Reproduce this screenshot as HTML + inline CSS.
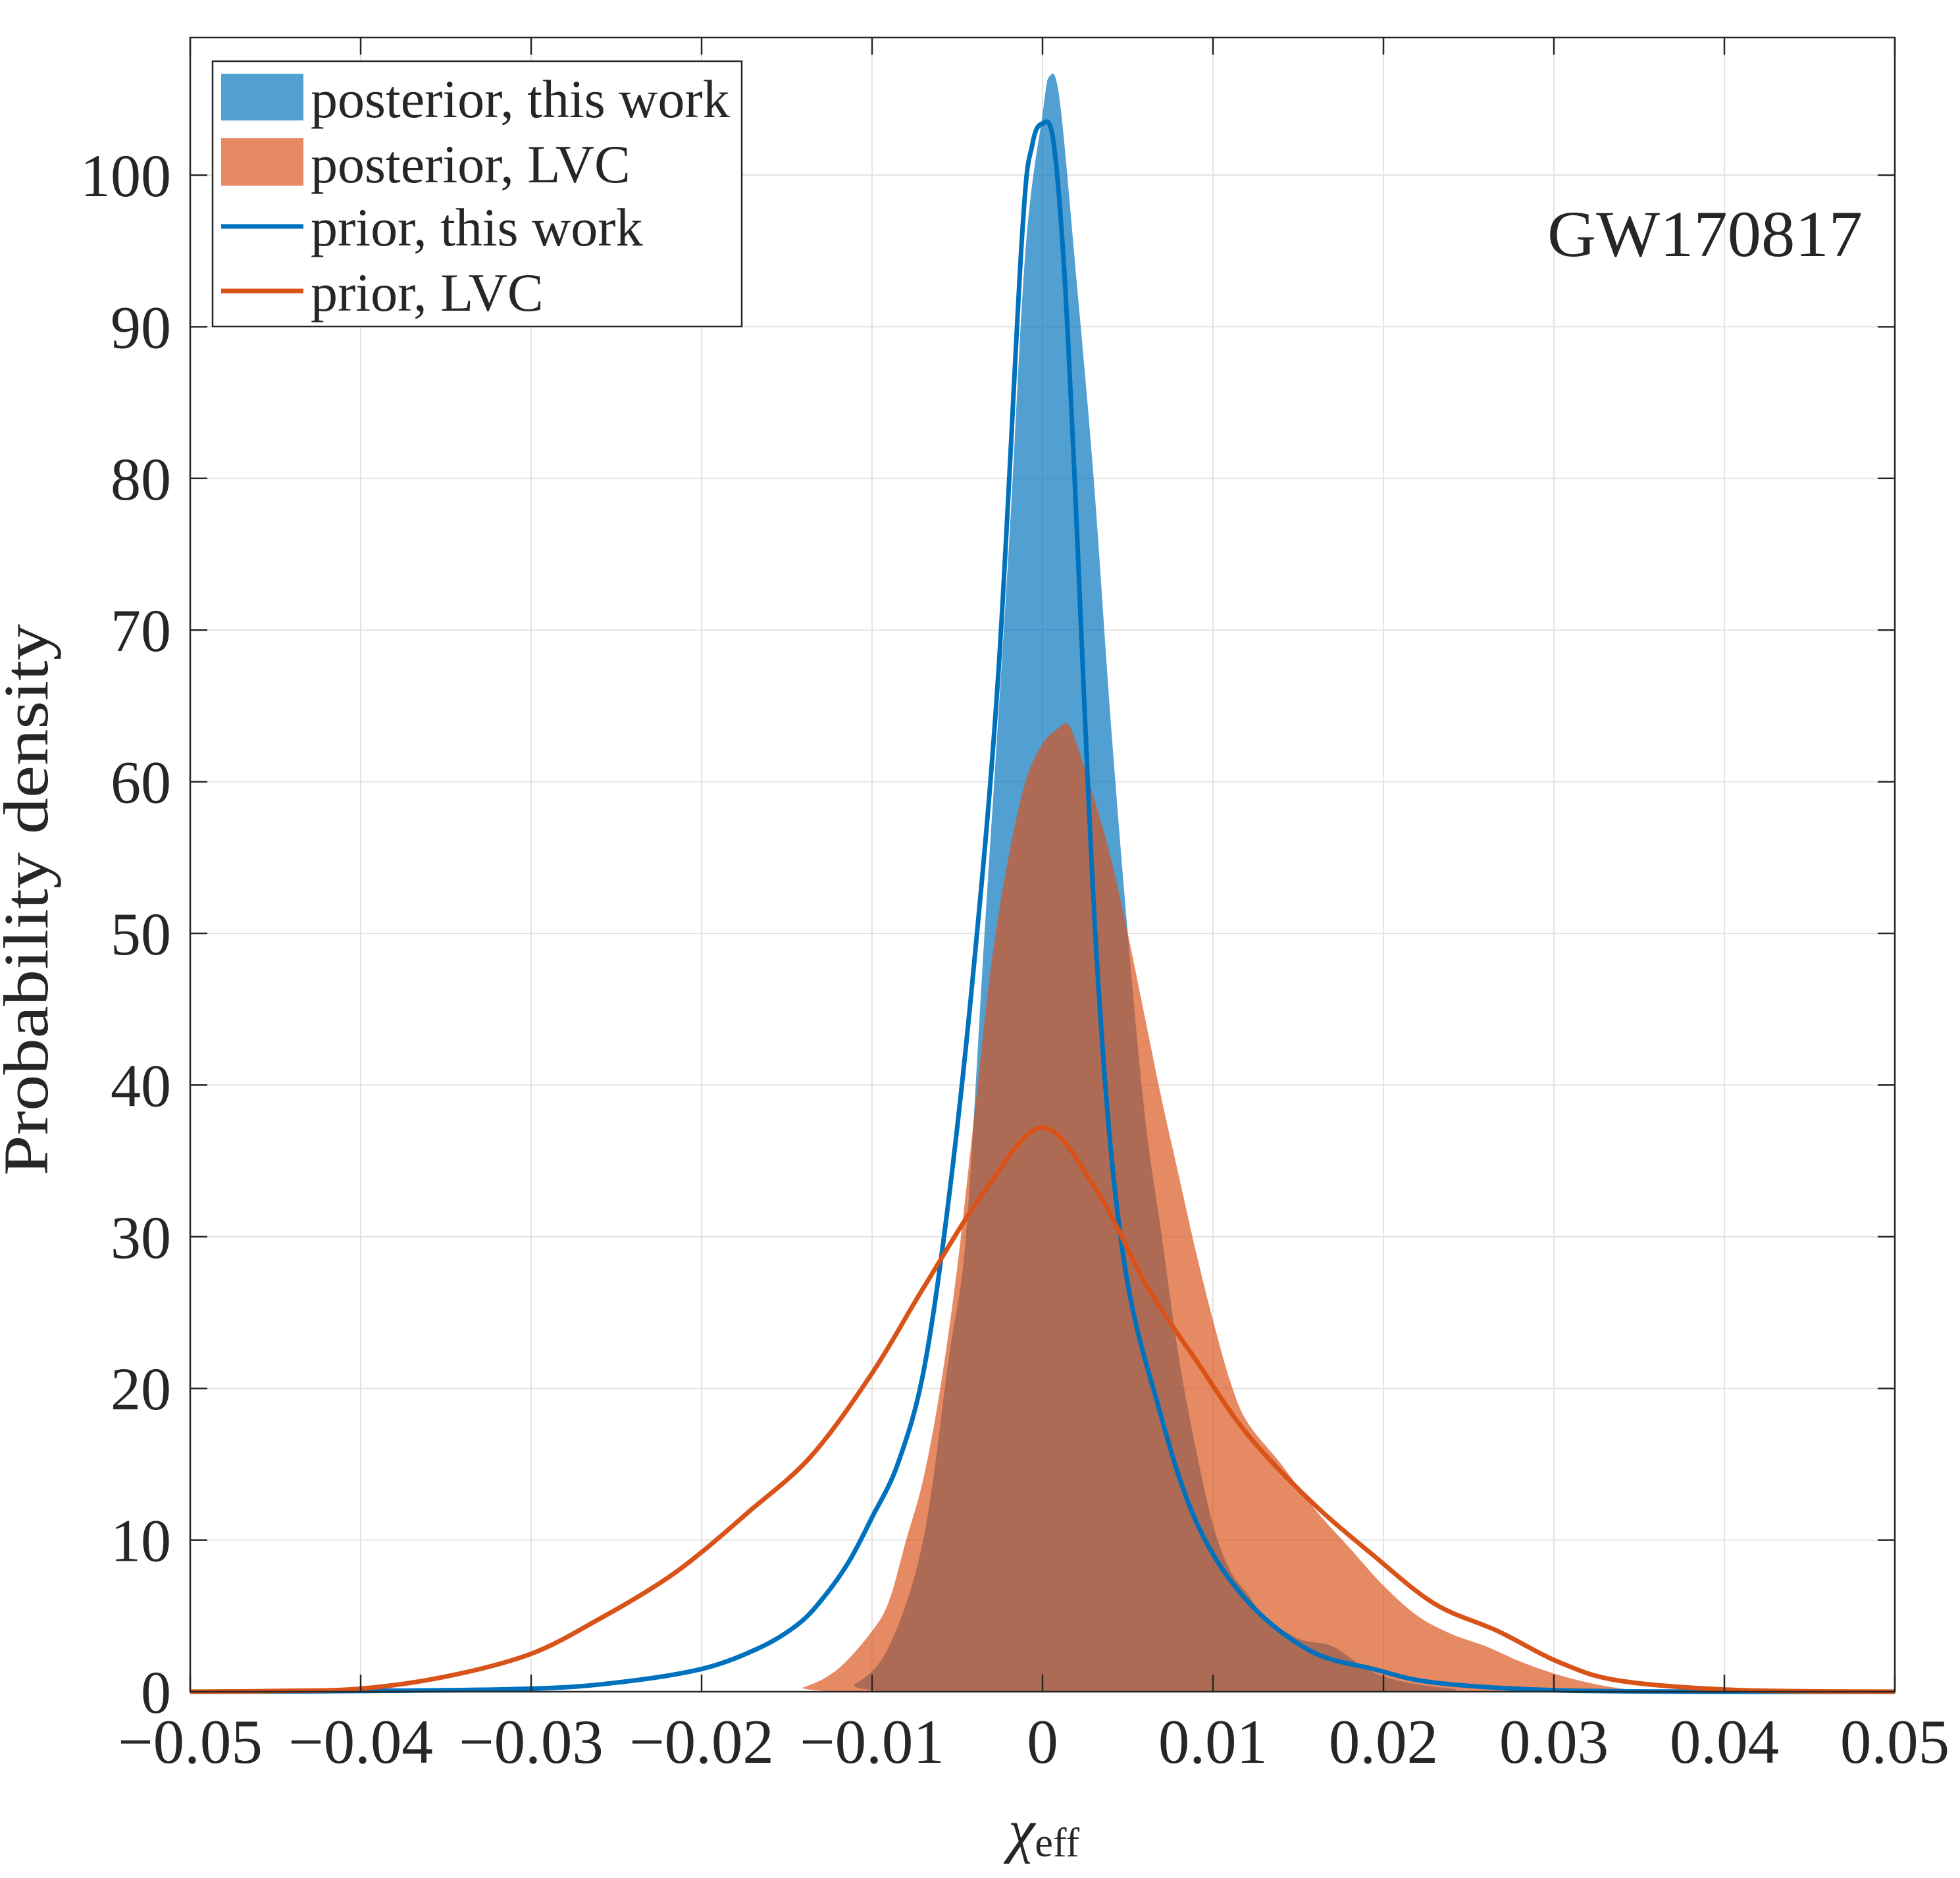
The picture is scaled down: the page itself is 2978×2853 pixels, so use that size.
<!DOCTYPE html>
<html><head><meta charset="utf-8"><style>
html,body{margin:0;padding:0;background:#fff;}
svg{display:block;}
text{font-family:"Liberation Serif",serif;fill:#262626;}
</style></head><body>
<svg id="chart" width="2978" height="2853" viewBox="0 0 2978 2853" xmlns="http://www.w3.org/2000/svg">
<g id="grid"></g>
<g id="series"></g>
<g id="axes"></g>
<text x="72" y="1367" font-size="96" text-anchor="middle" transform="rotate(-90 72 1367)" textLength="838" lengthAdjust="spacingAndGlyphs">Probability density</text>
<text x="1586" y="2812" font-size="92" text-anchor="middle" font-style="italic">χ<tspan font-size="62" font-style="normal" dy="8">eff</tspan></text>
<text x="2830" y="389" font-size="100" text-anchor="end" textLength="479" lengthAdjust="spacingAndGlyphs" fill="#000">GW170817</text>
<g>
<rect x="323" y="93" width="804" height="403" fill="#fff" stroke="#262626" stroke-width="2.5"/>
<rect x="336" y="112" width="125" height="71" fill="#0072bd" fill-opacity="0.68"/>
<text x="472" y="178" font-size="82" fill="#000">posterior, this work</text>
<rect x="336" y="210" width="125" height="72" fill="#d95319" fill-opacity="0.68"/>
<text x="472" y="277" font-size="82" fill="#000">posterior, LVC</text>
<line x1="336" y1="344" x2="461" y2="344" stroke="#0072bd" stroke-width="7"/>
<text x="472" y="373" font-size="82" fill="#000">prior, this work</text>
<line x1="336" y1="442" x2="461" y2="442" stroke="#d95319" stroke-width="7"/>
<text x="472" y="472" font-size="82" fill="#000">prior, LVC</text>
</g>
</svg>
<script>
const xTicks=[-0.05,-0.04,-0.03,-0.02,-0.01,0,0.01,0.02,0.03,0.04,0.05];
const xTickLabels=["\u22120.05","\u22120.04","\u22120.03","\u22120.02","\u22120.01","0","0.01","0.02","0.03","0.04","0.05"];
const yTicks=[0,10,20,30,40,50,60,70,80,90,100];
const yTickLabels=["0","10","20","30","40","50","60","70","80","90","100"];
const postThisX=[-0.05,-0.013,-0.011,-0.009,-0.007,-0.0055,-0.0045,-0.0034,-0.002,-0.001,0,0.0004,0.001,0.002,0.003,0.004,0.005,0.006,0.007,0.008,0.009,0.010,0.011,0.012,0.013,0.015,0.017,0.019,0.021,0.024,0.027,0.05];
const postThisY=[0,0,0.5,3,10,22,30,50,75,95,104,106.5,105,93,80,64,50,38,30,22,16,11,8,6.5,5,3.5,3,1.5,0.7,0.2,0,0];
const postLvcX=[-0.05,-0.016,-0.014,-0.012,-0.010,-0.009,-0.008,-0.007,-0.006,-0.005,-0.004,-0.003,-0.002,-0.001,0,0.001,0.0015,0.002,0.003,0.004,0.005,0.006,0.007,0.008,0.009,0.010,0.011,0.012,0.014,0.016,0.018,0.020,0.022,0.024,0.026,0.028,0.030,0.032,0.034,0.036,0.05];
const postLvcY=[0,0,0.3,1.5,4,6,10,14,20,28,38,48,55,60,62.5,63.6,63.8,62.5,59,55,50,44.5,39,34,29,24.5,20.5,17.8,15,12,9.5,7,5,3.8,3,2,1.2,0.6,0.2,0,0];
const priorThisX=[-0.05,-0.04,-0.03,-0.025,-0.02,-0.0166,-0.0144,-0.013,-0.0114,-0.01,-0.0085,-0.007,-0.0056,-0.0041,-0.0026,-0.0012,-0.0006,0,0.0006,0.0012,0.0018,0.0032,0.0047,0.0069,0.0091,0.012,0.0157,0.0194,0.023,0.03,0.04,0.05];
const priorThisY=[0,0.05,0.2,0.6,1.5,2.9,4.4,6,8.5,11.5,15,21,31.6,47,67,96,102,103.4,102.5,95,82,48,29,18.4,11,6,2.7,1.5,0.6,0.1,0,0];
const priorLvcX=[-0.05,-0.045,-0.04,-0.035,-0.03,-0.026,-0.0224,-0.02,-0.0173,-0.0136,-0.01,-0.007,-0.0034,0,0.0032,0.0062,0.0091,0.012,0.0157,0.0194,0.023,0.0267,0.0304,0.034,0.041,0.05];
const priorLvcY=[0,0.05,0.2,1,2.5,4.8,7.2,9.2,11.8,15.5,21,26.6,33,37.2,33,26.6,21.7,17,12.6,9,5.8,4,1.9,0.7,0.1,0];

const L=289,R=2879,T=57,B=2570;
const sx=v=>L+(v+0.05)/0.1*(R-L);
const sy=v=>B-v/100*(B-266);
const NS="http://www.w3.org/2000/svg";
function mk(tag,attrs,parent){const e=document.createElementNS(NS,tag);for(const k in attrs)e.setAttribute(k,attrs[k]);parent.appendChild(e);return e;}
function pathD(xs,ys){
  const p=xs.map((x,i)=>[sx(x),sy(ys[i])]);
  let d="M"+p[0][0]+","+p[0][1];
  for(let i=0;i<p.length-1;i++){
    const p0=p[Math.max(0,i-1)],p1=p[i],p2=p[i+1],p3=p[Math.min(p.length-1,i+2)];
    let c1x=p1[0]+(p2[0]-p0[0])/6,c1y=p1[1]+(p2[1]-p0[1])/6;
    let c2x=p2[0]-(p3[0]-p1[0])/6,c2y=p2[1]-(p3[1]-p1[1])/6;
    c1y=Math.min(c1y,B);c2y=Math.min(c2y,B);
    d+=" C"+c1x+","+c1y+" "+c2x+","+c2y+" "+p2[0]+","+p2[1];
  }
  return d;
}
const grid=document.getElementById('grid'),axes=document.getElementById('axes'),series=document.getElementById('series');
xTicks.forEach((v,i)=>{
  const gl=mk('line',{x1:sx(v),x2:sx(v),y1:T,y2:B,stroke:'#e3e3e3','stroke-width':2},grid);
  
  
  const t1=mk('line',{x1:sx(v),x2:sx(v),y1:B,y2:B-26,stroke:'#262626','stroke-width':2.5},axes);
  
  
  const t2=mk('line',{x1:sx(v),x2:sx(v),y1:T,y2:T+26,stroke:'#262626','stroke-width':2.5},axes);
  
  
  const tx=mk('text',{x:sx(v),y:2678,'font-size':95,'text-anchor':'middle'},axes);
  tx.textContent=xTickLabels[i];
  
  
});
yTicks.forEach((v,i)=>{
  const gl=mk('line',{x1:L,x2:R,y1:sy(v),y2:sy(v),stroke:'#e3e3e3','stroke-width':2},grid);
  
  
  const t1=mk('line',{x1:L,x2:L+26,y1:sy(v),y2:sy(v),stroke:'#262626','stroke-width':2.5},axes);
  
  
  const t2=mk('line',{x1:R,x2:R-26,y1:sy(v),y2:sy(v),stroke:'#262626','stroke-width':2.5},axes);
  
  
  const tx=mk('text',{x:260,y:sy(v)+32,'font-size':92,'text-anchor':'end'},axes);
  tx.textContent=yTickLabels[i];
  
  
});
const box=mk('rect',{x:L,y:T,width:R-L,height:B-T,fill:'none',stroke:'#262626','stroke-width':2.5},axes);



const a1=mk('path',{d:pathD(postThisX,postThisY)+" L"+sx(0.05)+","+B+" L"+sx(-0.05)+","+B+" Z",fill:'#0072bd','fill-opacity':0.68},series);


const a2=mk('path',{d:pathD(postLvcX,postLvcY)+" L"+sx(0.05)+","+B+" L"+sx(-0.05)+","+B+" Z",fill:'#d95319','fill-opacity':0.68},series);


const l1=mk('path',{d:pathD(priorThisX,priorThisY),fill:'none',stroke:'#0072bd','stroke-width':7,'stroke-linejoin':'round'},series);


const l2=mk('path',{d:pathD(priorLvcX,priorLvcY),fill:'none',stroke:'#d95319','stroke-width':7,'stroke-linejoin':'round'},series);


</script>
</body></html>
